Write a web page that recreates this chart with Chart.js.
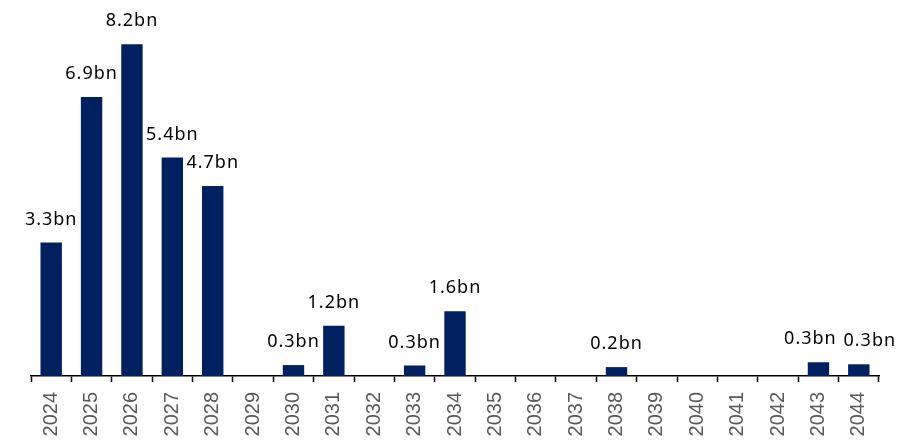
<!DOCTYPE html>
<html>
<head>
<meta charset="utf-8">
<script src="https://cdn.jsdelivr.net/npm/chart.js@4/dist/chart.umd.min.js"></script>
<style>
  html, body { margin: 0; padding: 0; background: #fff; }
  #wrap { width: 922px; height: 440px; position: relative; }
</style>
</head>
<body>
<div id="wrap"><canvas id="chart"></canvas></div>
<script>
  'use strict'

  // years on the x axis
  const years = ['2024', '2025', '2026', '2027', '2028', '2029', '2030', '2031', '2032', '2033', '2034',
    '2035', '2036', '2037', '2038', '2039', '2040', '2041', '2042', '2043', '2044']

  // amounts in bn
  const amounts = [3.3, 6.9, 8.2, 5.4, 4.7, 0, 0.27, 1.24, 0, 0.26, 1.6,
    0, 0, 0, 0.22, 0, 0, 0, 0, 0.34, 0.29]

  // small sideways nudges so the last two labels don't collide
  const labelNudge = { 19: -8, 20: 11 }

  const barColor = '#002060'

  // draws the "x.xbn" text above every non-empty bar
  const valueLabels = {
    id: 'valueLabels',
    afterDatasetsDraw(chart) {
      const ctx = chart.ctx
      const meta = chart.getDatasetMeta(0)
      ctx.save()
      ctx.font = '18px "Noto Sans", sans-serif'
      ctx.letterSpacing = '1px'
      ctx.fillStyle = '#000'
      ctx.textAlign = 'center'
      ctx.textBaseline = 'middle'
      meta.data.forEach((bar, i) => {
        const v = amounts[i]
        if (!v) return
        const dx = labelNudge[i] || 0
        ctx.fillText(v.toFixed(1) + 'bn', bar.x + dx, bar.y - 23)
      })
      ctx.restore()
    }
  }

  new Chart(document.getElementById('chart'), {
    type: 'bar',
    data: {
      labels: years,
      datasets: [{
        data: amounts,
        backgroundColor: barColor,
        borderWidth: 0,
        barPercentage: 0.53,
        categoryPercentage: 1
      }]
    },
    options: {
      responsive: true,
      maintainAspectRatio: false,
      animation: false,
      layout: { padding: { top: 12, left: 31, right: 43, bottom: 0 } },
      plugins: {
        legend: { display: false },
        tooltip: { enabled: false }
      },
      scales: {
        x: {
          offset: true,
          // fixed axis band so the baseline lands where the original has it
          afterFit: scale => { scale.height = 64 },
          border: { display: true, color: '#000', width: 1.5 },
          grid: {
            offset: true,
            drawOnChartArea: false,
            drawTicks: true,
            tickLength: 6,
            tickColor: '#000',
            tickWidth: 1.5
          },
          ticks: {
            color: '#595959',
            font: { family: '"Liberation Sans", Arial, sans-serif', size: 20 },
            minRotation: 90,
            maxRotation: 90,
            autoSkip: false,
            padding: 10
          }
        },
        y: {
          display: false,
          min: 0,
          max: 9
        }
      }
    },
    plugins: [valueLabels]
  })
</script>
</body>
</html>
